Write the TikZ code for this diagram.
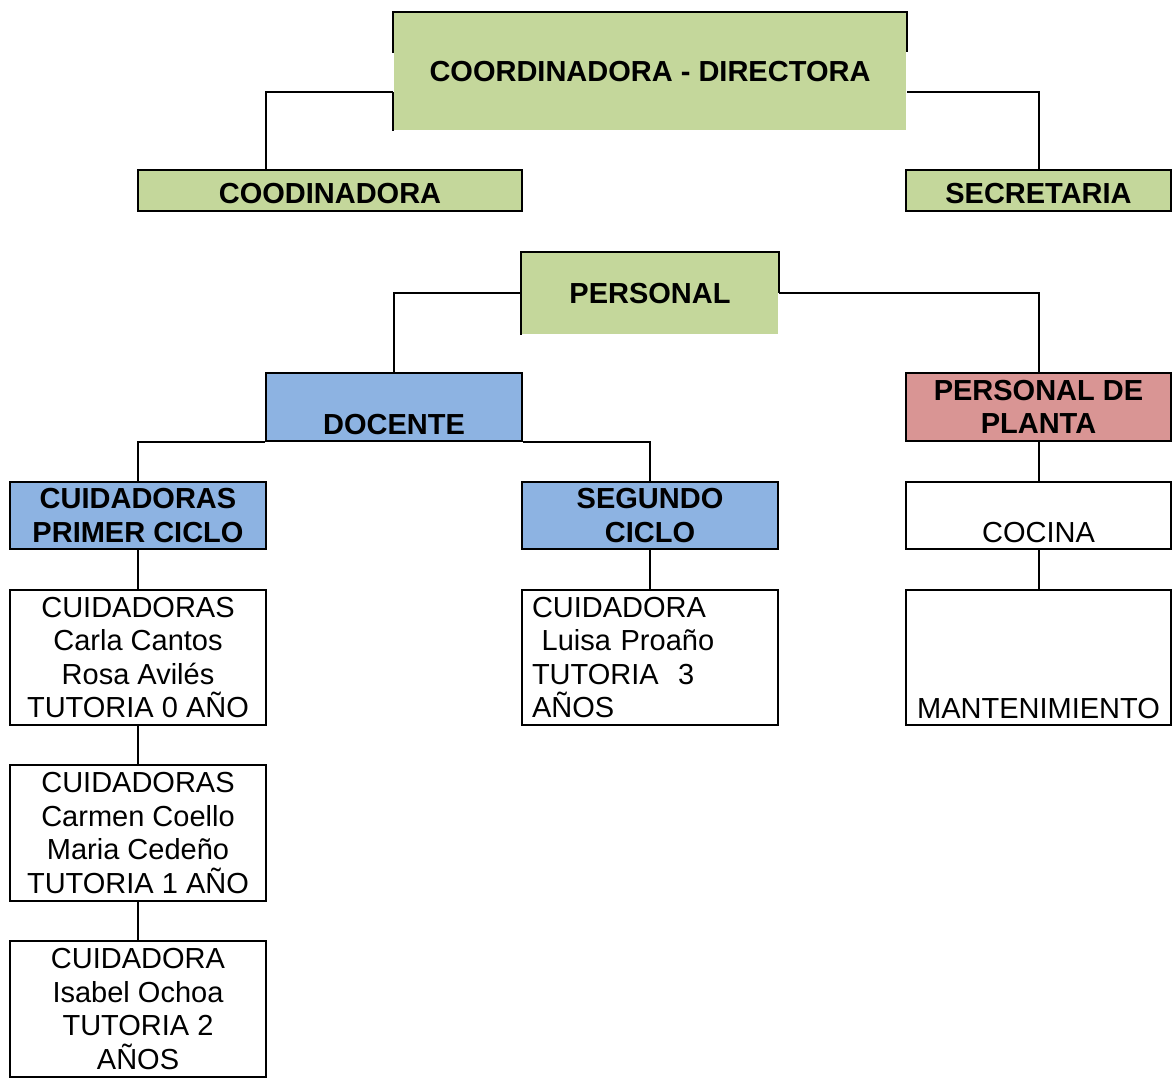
\documentclass[tikz,border=0pt]{standalone}
\usepackage{fontspec}
\setmainfont{Liberation Sans}
\definecolor{verdeclaro}{HTML}{C4D79B}
\definecolor{azulclaro}{HTML}{8DB3E2}
\definecolor{rojoclaro}{HTML}{D99594}
\tikzset{
  cargo/.style = {draw, line width = 1pt, inner sep = 0pt, align = center,
                  font = \fontsize{14.5}{16.7}\selectfont},
  verde/.style = {cargo, fill = verdeclaro, font = \fontsize{14.5}{16.7}\selectfont\bfseries},
  azul/.style = {cargo, fill = azulclaro, font = \fontsize{14.5}{16.7}\selectfont\bfseries},
  rojo/.style = {cargo, fill = rojoclaro, font = \fontsize{14.5}{16.7}\selectfont\bfseries},
  link/.style = {line width = 1pt}
}

\begin{document}
\begin{tikzpicture}[x = 0.5pt, y = -0.5pt]
    \useasboundingbox (0,0) rectangle (1172,1079);
    \node[verde, draw = none, minimum width = 256pt, minimum height = 58.5pt](directora) at (650,71.5) {COORDINADORA - DIRECTORA};
    \node[verde, minimum width = 192pt, text height = 16.75pt, text depth = 3.75pt](coordinadora) at (330,190.5) {COODINADORA};
    \node[verde, minimum width = 132.5pt, text height = 16.75pt, text depth = 3.75pt](secretaria) at (1038.5,190.5) {SECRETARIA};
    \node[verde, draw = none, minimum width = 128pt, minimum height = 40.5pt](personal) at (650,293.5) {PERSONAL};

    \node[azul, minimum width = 128pt, text height = 31pt, text depth = 3pt](docente) at (394,407) {DOCENTE};
    \node[rojo, minimum width = 132.5pt, minimum height = 34pt](planta) at (1038.5,407) {PERSONAL DE\\PLANTA};

    \node[azul, minimum width = 128pt, minimum height = 33.5pt](primer) at (138,515.5) {CUIDADORAS\\PRIMER CICLO};
    \node[azul, minimum width = 128pt, minimum height = 33.5pt](segundo) at (650,515.5) {SEGUNDO\\CICLO};
    \node[cargo, minimum width = 132.5pt, text height = 30.25pt, text depth = 3.25pt](cocina) at (1038.5,515.5) {COCINA};

    \node[cargo, minimum width = 128pt, minimum height = 67.5pt](tutoria0) at (138,657.5) {CUIDADORAS\\Carla Cantos\\Rosa Avilés\\TUTORIA 0 AÑO};
    \node[cargo, minimum width = 128pt, minimum height = 67.5pt, align = left, text width = 118pt](tutoria3) at (650,657.5) {CUIDADORA\\\ Luisa Proaño\\TUTORIA\ \ 3\\AÑOS};
    \node[cargo, minimum width = 132.5pt, text height = 64.25pt, text depth = 3.25pt](mantenimiento) at (1038.5,657.5) {MANTENIMIENTO};
    \node[cargo, minimum width = 128pt, minimum height = 68pt](tutoria1) at (138,833) {CUIDADORAS\\Carmen Coello\\Maria Cedeño\\TUTORIA 1 AÑO};
    \node[cargo, minimum width = 128pt, minimum height = 68pt](tutoria2) at (138,1009) {CUIDADORA\\Isabel Ochoa\\TUTORIA 2\\AÑOS};

    % open borders of the two upper boxes
    \draw [link] ([yshift = 9.25pt]directora.west) |- (directora.north east) -- ([yshift = 9.75pt]directora.east);
    \draw [link] ([yshift = -10.25pt]directora.west) -- (directora.south west);
    \draw [link] (personal.south west) |- (personal.north east) -- (personal.east);

    \draw [link] ([yshift = -10.25pt]directora.west) -| ([xshift = -32pt]coordinadora.north);
    \draw [link] ([yshift = -10.25pt]directora.east) -| (secretaria.north);
    \draw [link] (personal.west) -| (docente.north);
    \draw [link] (personal.east) -| (planta.north);
    \draw [link] (docente.south west) -| (primer.north);
    \draw [link] (docente.south east) -| (segundo.north);
    \draw [link] (planta.south) -- (cocina.north);
    \draw [link] (cocina.south) -- (mantenimiento.north);
    \draw [link] (primer.south) -- (tutoria0.north);
    \draw [link] (tutoria0.south) -- (tutoria1.north);
    \draw [link] (tutoria1.south) -- (tutoria2.north);
    \draw [link] (segundo.south) -- (tutoria3.north);
    \end{tikzpicture}
\end{document}
